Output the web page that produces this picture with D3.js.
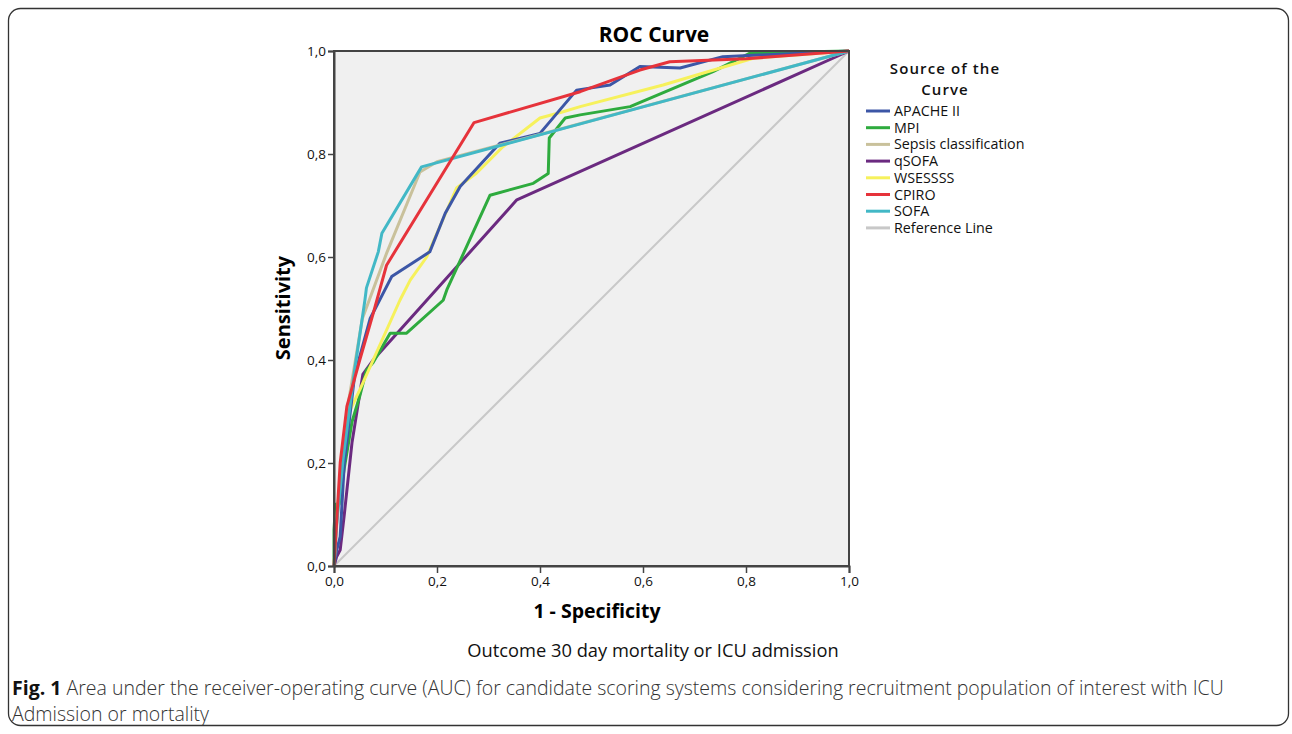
<!DOCTYPE html>
<html><head><meta charset="utf-8">
<script src="https://cdn.jsdelivr.net/npm/d3@7"></script>
<style>
body{margin:0;background:#fff;}
svg{display:block;}
svg text{font-family:'Open Sans',sans-serif;}
</style></head>
<body>
<svg id="chart" width="1292" height="734"></svg>
<script>
const seriesNames = ["APACHE II","MPI","Sepsis classification","qSOFA","WSESSSS","CPIRO","SOFA","Reference Line"];
const seriesColors = ["#3c56a6","#2eab3e","#c9c19b","#6b2a80","#f6f15c","#e6333b","#42b8c6","#c8c8c8"];
const xTicks = [0,0.2,0.4,0.6,0.8,1.0];
const yTicks = [0,0.2,0.4,0.6,0.8,1.0];

// [1 - specificity, sensitivity]
const apache = [[0,0],[0.005,0.03],[0.012,0.057],[0.02,0.2],[0.04,0.37],[0.07,0.48],[0.112,0.562],[0.186,0.61],[0.216,0.685],[0.245,0.737],[0.322,0.821],[0.40,0.84],[0.471,0.924],[0.536,0.934],[0.594,0.97],[0.672,0.967],[0.755,0.989],[1,1]];
const mpi = [[0,0],[0,0.07],[0.003,0.12],[0.01,0.12],[0.02,0.19],[0.035,0.28],[0.05,0.33],[0.063,0.38],[0.076,0.395],[0.109,0.452],[0.141,0.452],[0.212,0.516],[0.219,0.536],[0.303,0.72],[0.387,0.743],[0.416,0.762],[0.418,0.831],[0.449,0.87],[0.478,0.876],[0.575,0.892],[0.736,0.96],[0.808,0.996],[1,1]];
const sepsis = [[0,0],[0.008,0.12],[0.025,0.3],[0.055,0.48],[0.102,0.607],[0.167,0.765],[0.2,0.785],[0.4,0.838],[1,1]];
const qsofa = [[0,0],[0.005,0.018],[0.012,0.031],[0.02,0.1],[0.035,0.24],[0.056,0.372],[0.076,0.4],[0.355,0.711],[1,1]];
const wsesss = [[0,0],[0.004,0.08],[0.015,0.2],[0.03,0.3],[0.05,0.342],[0.128,0.516],[0.148,0.555],[0.18,0.6],[0.238,0.734],[0.277,0.763],[0.328,0.814],[0.40,0.87],[0.445,0.882],[0.478,0.892],[0.639,0.934],[0.814,0.986],[1,1]];
const cpiro = [[0,0],[0.006,0.1],[0.012,0.2],[0.025,0.31],[0.05,0.4],[0.076,0.49],[0.102,0.584],[0.272,0.861],[0.478,0.921],[0.594,0.963],[0.652,0.979],[0.8,0.985],[1,1]];
const sofa = [[0,0],[0.005,0.08],[0.018,0.21],[0.04,0.38],[0.06,0.516],[0.063,0.54],[0.086,0.61],[0.093,0.646],[0.170,0.775],[1,1]];
const refLine = [[0,0],[1,1]];
const seriesData = [apache,mpi,sepsis,qsofa,wsesss,cpiro,sofa,refLine];
// drawing order (bottom to top)
const drawOrder = [7,3,1,4,0,2,6,5];

const svg = d3.select("#chart");

// outer frame
svg.append("rect").attr("x",8.5).attr("y",8.5).attr("width",1280).attr("height",717)
  .attr("rx",12).attr("fill","none").attr("stroke","#333").attr("stroke-width",1.3);

const L=334,R=849,T=51,B=566;
const x = d3.scaleLinear().domain([0,1]).range([L,R]);
const y = d3.scaleLinear().domain([0,1]).range([B,T]);

svg.append("rect").attr("x",L).attr("y",T).attr("width",R-L).attr("height",B-T).attr("fill","#f0f0f0");

const line = d3.line().x(d=>x(d[0])).y(d=>y(d[1]));
const gLines = svg.append("g");
drawOrder.forEach(i=>{
  gLines.append("path").datum(seriesData[i]).attr("d",line)
    .attr("fill","none").attr("stroke",seriesColors[i])
    .attr("stroke-width", i===7?2:3).attr("stroke-linejoin","round");
});

// frame
svg.append("rect").attr("x",L).attr("y",T).attr("width",R-L).attr("height",B-T)
  .attr("fill","none").attr("stroke","#444").attr("stroke-width",2);

const fmt = d=>d3.format(".1f")(d).replace(".",",");
const xAxis = svg.append("g").attr("transform",`translate(0,${B})`)
  .call(d3.axisBottom(x).tickValues(xTicks).tickFormat(fmt).tickSize(7).tickPadding(3));
const yAxis = svg.append("g").attr("transform",`translate(${L},0)`)
  .call(d3.axisLeft(y).tickValues(yTicks).tickFormat(fmt).tickSize(6).tickPadding(2));
[xAxis,yAxis].forEach(a=>{
  a.select(".domain").attr("stroke","#444").attr("stroke-width",2);
  a.selectAll(".tick line").attr("stroke","#444").attr("stroke-width",1.5);
  a.selectAll(".tick text").attr("font-family",null).attr("font-size",13.5).attr("fill","#111");
});

svg.append("text").attr("x",654).attr("y",42).attr("text-anchor","middle")
  .attr("font-weight","bold").attr("font-size",21).text("ROC Curve");
svg.append("text").attr("x",597).attr("y",618).attr("text-anchor","middle")
  .attr("font-weight","bold").attr("font-size",19.5).text("1 - Specificity");
svg.append("text").attr("transform","translate(290,308) rotate(-90)").attr("text-anchor","middle")
  .attr("font-weight","bold").attr("font-size",20).text("Sensitivity");
svg.append("text").attr("x",653).attr("y",657).attr("text-anchor","middle")
  .attr("font-size",18.3).attr("fill","#111").text("Outcome 30 day mortality or ICU admission");

// legend
const lg = svg.append("g");
lg.append("text").attr("x",945).attr("y",74).attr("text-anchor","middle")
  .attr("font-size",15).attr("font-weight",600).attr("letter-spacing",1.1).attr("fill","#111").text("Source of the");
lg.append("text").attr("x",945).attr("y",95).attr("text-anchor","middle")
  .attr("font-size",15).attr("font-weight",600).attr("letter-spacing",1.1).attr("fill","#111").text("Curve");
seriesNames.forEach((n,i)=>{
  const yy = 111 + i*16.7;
  lg.append("line").attr("x1",866).attr("x2",890).attr("y1",yy).attr("y2",yy)
    .attr("stroke",seriesColors[i]).attr("stroke-width",3);
  lg.append("text").attr("x",894).attr("y",yy+5)
    .attr("font-size",14.3).attr("fill","#111").text(n);
});

// caption
const cap = svg.append("text").attr("x",12).attr("y",695).attr("font-weight",300).attr("font-size",19.5).attr("fill","#333");
cap.append("tspan").attr("font-weight","bold").attr("fill","#111").text("Fig. 1");
cap.append("tspan").text(" Area under the receiver-operating curve (AUC) for candidate scoring systems considering recruitment population of interest with ICU");
svg.append("text").attr("x",12).attr("y",721).attr("font-weight",300).attr("font-size",19.5).attr("fill","#333").text("Admission or mortality");
</script>
</body></html>
